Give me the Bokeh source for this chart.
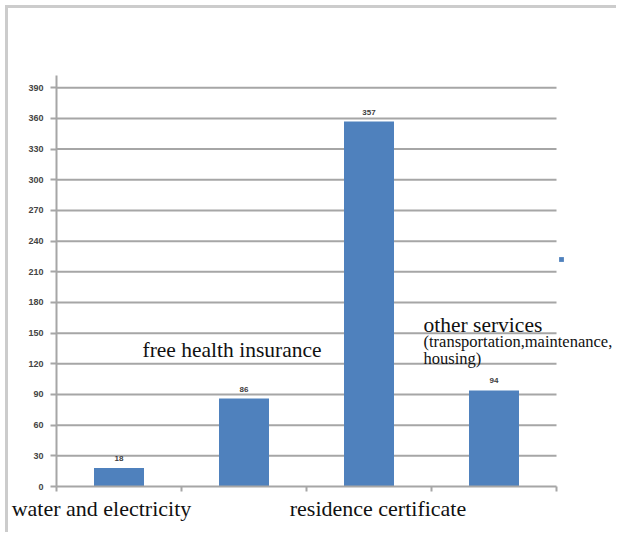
from bokeh.plotting import figure
from bokeh.models import (ColumnDataSource, FixedTicker, Range1d, Label, Legend,
                          LegendItem)
from bokeh.embed import file_html
from bokeh.resources import INLINE

# ---- data ----
categories = ["water and electricity", "free health insurance",
              "residence certificate", "other services"]
values = [18, 86, 357, 94]
y_ticks = list(range(0, 391, 30))

# ---- layout (not data) ----
bottom_label_dx = {0: -0.14, 2: 0.072}                       # labels under the axis
inner_label_pos = {1: (-0.812, 134.0), 3: (-0.564, 158.4)}   # labels inside the plot
sub_label_lines = ["(transportation,maintenance,", "housing)"]
sub_label_y = [141.8, 125.2]

BLUE = "#4f81bd"
GRID = "#a6a6a6"
SERIF = "Liberation Serif"

n = len(categories)
xs = [i + 0.5 for i in range(n)]
src = ColumnDataSource(dict(x=xs, top=values, lab=[str(v) for v in values]))

p = figure(width=611, height=527, output_backend="svg", toolbar_location=None,
           x_range=Range1d(0, 4.472), y_range=Range1d(0, 402),
           min_border_left=48, min_border_right=4, min_border_top=67,
           min_border_bottom=49, margin=(8, 0, 0, 8))
p.styles = {"box-shadow": "-3px -3px 0px 0px #cccccc"}
p.outline_line_color = None

# grid lines (drawn from the tick list, across the category span only)
p.segment(x0=[0] * (len(y_ticks) - 1), x1=[n] * (len(y_ticks) - 1),
          y0=y_ticks[1:], y1=y_ticks[1:], line_color=GRID, line_width=2)

bars = p.vbar(x="x", top="top", width=0.4, bottom=0, source=src,
              fill_color=BLUE, line_color=None)
p.text(x="x", y="top", text="lab", source=src, text_align="center",
       text_baseline="bottom", y_offset=-7, text_font_size="8px",
       text_font_style="bold", text_color="#404040")

# y axis
p.yaxis.ticker = FixedTicker(ticks=y_ticks)
p.yaxis.axis_line_color = GRID
p.yaxis.axis_line_width = 2
p.yaxis.major_tick_line_color = GRID
p.yaxis.major_tick_line_width = 2
p.yaxis.major_tick_out = 6
p.yaxis.major_tick_in = 0
p.yaxis.minor_tick_line_color = None
p.yaxis.major_label_text_font_size = "9px"
p.yaxis.major_label_text_font_style = "bold"
p.yaxis.major_label_text_color = "#444444"
p.yaxis.major_label_standoff = 7

# x axis: boundary ticks as minor ticks, category names as major labels
bticks = [xs[i] + d for i, d in bottom_label_dx.items()]
xa = p.xaxis[0]
xa.ticker = FixedTicker(ticks=bticks, minor_ticks=list(range(n + 1)))
xa.major_label_overrides = {t: categories[i] for t, i in zip(bticks, bottom_label_dx.keys())}
xa.bounds = (0, n)
xa.axis_line_color = GRID
xa.axis_line_width = 2
xa.major_tick_line_color = None
xa.minor_tick_line_color = GRID
xa.minor_tick_line_width = 2
xa.minor_tick_out = 5
xa.minor_tick_in = 0
xa.major_tick_out = 0
xa.major_tick_in = 0
xa.major_label_standoff = 4
xa.major_label_text_font = SERIF
xa.major_label_text_font_size = "22px"
xa.major_label_text_color = "#111111"

p.xgrid.grid_line_color = None
p.ygrid.grid_line_color = None

# category names inside the plot
for i, (dx, y) in inner_label_pos.items():
    p.add_layout(Label(x=xs[i] + dx, y=y, text=categories[i], text_font=SERIF,
                       text_font_size="21.5px", text_color="#111111",
                       text_baseline="alphabetic"))
for line, y in zip(sub_label_lines, sub_label_y):
    p.add_layout(Label(x=xs[3] + inner_label_pos[3][0], y=y, text=line,
                       text_font=SERIF, text_font_size="16.5px",
                       text_color="#111111", text_baseline="alphabetic"))

# tiny legend marker
leg = Legend(items=[LegendItem(label="", renderers=[bars])], location=(502, 224),
             glyph_width=6, glyph_height=6, label_height=6, label_width=0,
             label_text_font_size="6px", padding=0, spacing=0, margin=0,
             label_standoff=0, border_line_color=None, background_fill_alpha=0)
p.add_layout(leg, "center")

open("out.html", "w").write(file_html(p, INLINE))
